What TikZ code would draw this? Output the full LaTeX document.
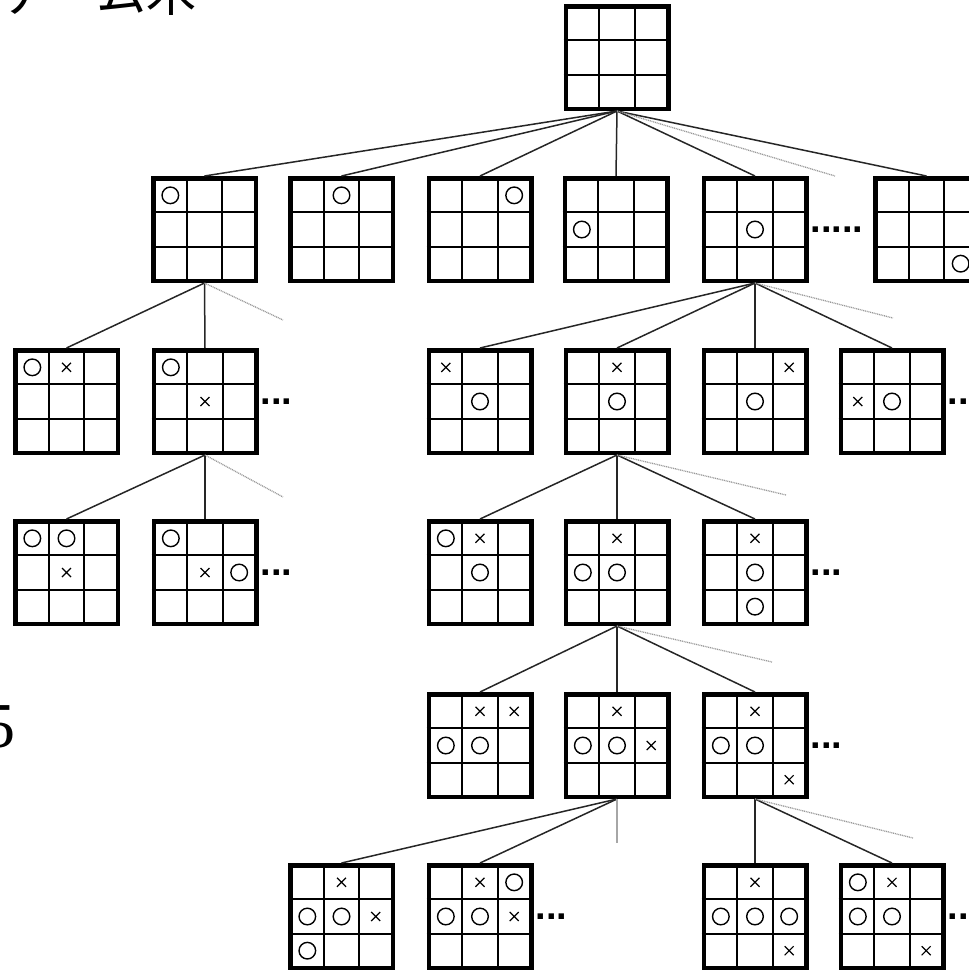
\documentclass[tikz,border=0pt]{standalone}
\usepackage{fontspec}
\setmainfont{Liberation Serif}
\newfontfamily\cjk{Noto Sans CJK JP}
\newfontfamily\dotfont{Liberation Sans}
\usetikzlibrary{calc}
\tikzset{
 brd/.style={draw, line width=4.5pt, minimum size=102.5pt, inner sep=0pt, fill=white},
 gridl/.style={line width=1.9pt},
 edge/.style={line width=1.5pt, black!85},
 more/.style={line width=1.3pt, gray!80, dash pattern=on 1pt off 0.8pt},
 fade/.style={line width=1.2pt, gray!70},
 omark/.style={line width=1.4pt},
 xmark/.style={line width=1.2pt},
 ell/.style={font=\dotfont\bfseries\fontsize{38}{38}\selectfont, inner sep=0pt, anchor=west},
}
\newcommand\bd[3]{\node[brd] (#1) at (#2,#3) {};
 \draw[gridl] ($(#1.north west)!1/3!(#1.north east)$) -- ($(#1.south west)!1/3!(#1.south east)$)
   ($(#1.north west)!2/3!(#1.north east)$) -- ($(#1.south west)!2/3!(#1.south east)$)
   ($(#1.north west)!1/3!(#1.south west)$) -- ($(#1.north east)!1/3!(#1.south east)$)
   ($(#1.north west)!2/3!(#1.south west)$) -- ($(#1.north east)!2/3!(#1.south east)$);}
\newcommand\mo[3]{\draw[omark] ($(#1.center)+({(#2-2)*34.17},{(#3-2)*34.17})$) circle[radius=8.3];}
\newcommand\mx[3]{\draw[xmark] ($(#1.center)+({(#2-2)*34.17-4.5},{(#3-2)*34.17-4.5})$) -- ++(9,9) ++(-9,0) -- ++(9,-9);}
\begin{document}
\begin{tikzpicture}[x=1pt,y=-1pt]
\useasboundingbox (0,0) rectangle (969,970);
\clip (0,0) rectangle (969,970);
% text
\node[font=\cjk\fontsize{50}{50}\selectfont, anchor=base west, inner sep=0pt] (title) at (-2,11) {ゲーム木};
\node[font=\fontsize{64}{64}\selectfont, anchor=base west, inner sep=0pt] (five) at (-17,747) {5};
% boards
\bd{r}{617}{57.5}
\bd{a1}{204.5}{229.5} \mo{a1}{1}{1}
\bd{a2}{341.5}{229.5} \mo{a2}{2}{1}
\bd{a3}{480}{229.5} \mo{a3}{3}{1}
\bd{a4}{616}{229.5} \mo{a4}{1}{2}
\bd{a5}{755}{229.5} \mo{a5}{2}{2}
\bd{a6}{926.5}{229.5} \mo{a6}{3}{3}
% level 2
\bd{l2a}{66.5}{401.5} \mo{l2a}{1}{1} \mx{l2a}{2}{1}
\bd{l2b}{205}{401.5} \mo{l2b}{1}{1} \mx{l2b}{2}{2}
\bd{r2a}{480}{401.5} \mx{r2a}{1}{1} \mo{r2a}{2}{2}
\bd{r2b}{617}{401.5} \mx{r2b}{2}{1} \mo{r2b}{2}{2}
\bd{r2c}{755}{401.5} \mx{r2c}{3}{1} \mo{r2c}{2}{2}
\bd{r2d}{892}{401.5} \mx{r2d}{1}{2} \mo{r2d}{2}{2}
% level 3
\bd{l3a}{66.5}{572.5} \mo{l3a}{1}{1} \mo{l3a}{2}{1} \mx{l3a}{2}{2}
\bd{l3b}{205}{572.5} \mo{l3b}{1}{1} \mx{l3b}{2}{2} \mo{l3b}{3}{2}
\bd{r3a}{480}{572.5} \mo{r3a}{1}{1} \mx{r3a}{2}{1} \mo{r3a}{2}{2}
\bd{r3b}{617}{572.5} \mx{r3b}{2}{1} \mo{r3b}{1}{2} \mo{r3b}{2}{2}
\bd{r3c}{755}{572.5} \mx{r3c}{2}{1} \mo{r3c}{2}{2} \mo{r3c}{2}{3}
% level 4
\bd{r4a}{480}{745.5} \mx{r4a}{2}{1} \mx{r4a}{3}{1} \mo{r4a}{1}{2} \mo{r4a}{2}{2}
\bd{r4b}{617}{745.5} \mx{r4b}{2}{1} \mo{r4b}{1}{2} \mo{r4b}{2}{2} \mx{r4b}{3}{2}
\bd{r4c}{755}{745.5} \mx{r4c}{2}{1} \mo{r4c}{1}{2} \mo{r4c}{2}{2} \mx{r4c}{3}{3}
% level 5
\bd{r5a}{341.5}{916.5} \mx{r5a}{2}{1} \mo{r5a}{1}{2} \mo{r5a}{2}{2} \mx{r5a}{3}{2} \mo{r5a}{1}{3}
\bd{r5b}{480}{916.5} \mx{r5b}{2}{1} \mo{r5b}{3}{1} \mo{r5b}{1}{2} \mo{r5b}{2}{2} \mx{r5b}{3}{2}
\bd{r5c}{755}{916.5} \mx{r5c}{2}{1} \mo{r5c}{1}{2} \mo{r5c}{2}{2} \mo{r5c}{3}{2} \mx{r5c}{3}{3}
\bd{r5d}{892}{916.5} \mo{r5d}{1}{1} \mx{r5d}{2}{1} \mo{r5d}{1}{2} \mo{r5d}{2}{2} \mx{r5d}{3}{3}
% free ends
\coordinate (m0) at (835,176);
\coordinate (m1) at (283,320);
\coordinate (m2) at (893,318);
\coordinate (m3) at (283,497);
\coordinate (m4) at (786,495);
\coordinate (m5) at (772,662);
\coordinate (m6) at (913,838);
\coordinate (m7) at (617,843);
% edges
\foreach \c in {a1,a2,a3,a4,a5,a6} \draw[edge] (r.south) -- (\c.north);
\draw[more] (r.south) -- (m0);
\foreach \c in {l2a,l2b} \draw[edge] (a1.south) -- (\c.north);
\draw[more] (a1.south) -- (m1);
\foreach \c in {r2a,r2b,r2c,r2d} \draw[edge] (a5.south) -- (\c.north);
\draw[more] (a5.south) -- (m2);
\foreach \c in {l3a,l3b} \draw[edge] (l2b.south) -- (\c.north);
\draw[more] (l2b.south) -- (m3);
\foreach \c in {r3a,r3b,r3c} \draw[edge] (r2b.south) -- (\c.north);
\draw[more] (r2b.south) -- (m4);
\foreach \c in {r4a,r4b,r4c} \draw[edge] (r3b.south) -- (\c.north);
\draw[more] (r3b.south) -- (m5);
\foreach \c in {r5a,r5b} \draw[edge] (r4b.south) -- (\c.north);
\draw[fade] (r4b.south) -- (m7);
\foreach \c in {r5c,r5d} \draw[edge] (r4c.south) -- (\c.north);
\draw[more] (r4c.south) -- (m6);
% ellipses
\node[ell] (e1) at ([xshift=2pt]a5.east) {.....};
\node[ell] (e2) at ([xshift=2pt]l2b.east) {...};
\node[ell] (e3) at ([xshift=2pt]r2d.east) {...};
\node[ell] (e4) at ([xshift=2pt]l3b.east) {...};
\node[ell] (e5) at ([xshift=2pt]r3c.east) {...};
\node[ell] (e6) at ([xshift=2pt]r4c.east) {...};
\node[ell] (e7) at ([xshift=2pt]r5b.east) {...};
\node[ell] (e8) at ([xshift=2pt]r5d.east) {...};
\end{tikzpicture}
\end{document}
